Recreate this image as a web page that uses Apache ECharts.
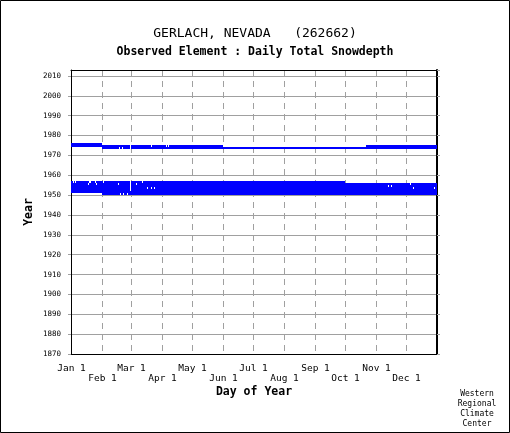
<!DOCTYPE html>
<html>
<head>
<meta charset="utf-8">
<title>GERLACH, NEVADA (262662)</title>
<script src="https://cdn.jsdelivr.net/npm/echarts@6/dist/echarts.min.js"></script>
<style>
html, body { margin: 0; padding: 0; background: #fff; }
#main { width: 510px; height: 433px; }
</style>
</head>
<body>
<div id="main"></div>
<script>
// day of year index on a 366 day calendar (0 = Jan 1, 59 = Feb 29, 365 = Dec 31)
var monthStart = [0, 31, 60, 91, 121, 152, 182, 213, 244, 274, 305, 335, 365];
var monthLabel = ['Jan 1', 'Feb 1', 'Mar 1', 'Apr 1', 'May 1', 'Jun 1',
	'Jul 1', 'Aug 1', 'Sep 1', 'Oct 1', 'Nov 1', 'Dec 1', 'Dec 31'];

// periods of record, one entry per run of observations
var periodYear  = [1950, 1951, 1952, 1953, 1954, 1955, 1956, 1973, 1974, 1974, 1975];
var periodStart = [31,   0,    0,    0,    0,    0,    0,    31,   0,    295,  0];
var periodEnd   = [365,  365,  365,  365,  365,  365,  273,  365,  151,  365,  30];

// days without an observation inside the periods
var missingYear = [1956, 1956, 1956, 1956, 1956, 1956, 1956, 1956,
	1955, 1955, 1955, 1955, 1955, 1955,
	1954, 1954, 1954,
	1953, 1953, 1953, 1953, 1953, 1953,
	1952,
	1950, 1950, 1950,
	1973, 1973, 1973,
	1974, 1974, 1974, 1974];
var missingDay = [2, 4, 18, 19, 24, 32, 59, 71,
	17, 25, 47, 59, 65, 339,
	59, 317, 320,
	59, 76, 80, 83, 342, 363,
	59,
	49, 52, 56,
	48, 51, 59,
	59, 80, 95, 97];

var days = [];
for (var d = 0; d <= 365; d++) {
	days.push(String(d));
}

function isMissing(year, day) {
	for (var i = 0; i < missingYear.length; i++) {
		if (missingYear[i] === year && missingDay[i] === day) return true;
	}
	return false;
}

// split the periods into runs of consecutive observed days
var runs = [];
for (var i = 0; i < periodYear.length; i++) {
	var y = periodYear[i], s = periodStart[i];
	for (var d = periodStart[i]; d <= periodEnd[i] + 1; d++) {
		if (d > periodEnd[i] || isMissing(y, d)) {
			if (d > s) runs.push([s, y, d - 1]);
			s = d + 1;
		}
	}
}

function renderRun(params, api) {
	var w = api.size([1, 0])[0];
	var a = api.coord([api.value(0), api.value(1) + 1]);
	var b = api.coord([api.value(2), api.value(1)]);
	// snap to whole pixels so neighbouring years join without seams
	var x0 = Math.round(a[0] - w / 2), x1 = Math.round(b[0] + w / 2);
	var y0 = Math.round(a[1]), y1 = Math.round(b[1]);
	return {
		type: 'rect',
		shape: { x: x0, y: y0, width: x1 - x0, height: y1 - y0 },
		style: { fill: '#0000ff' }
	};
}

var mono = 'DejaVu Sans Mono';
var myChart = echarts.init(document.getElementById('main'));
var option = {
	backgroundColor: '#fff',
	animation: false,
	title: [{
		text: 'GERLACH, NEVADA   (262662)',
		left: 'center',
		top: 27,
		padding: 0,
		textStyle: { fontFamily: mono, fontSize: 13, fontWeight: 'normal', color: '#000' }
	}, {
		text: 'Observed Element : Daily Total Snowdepth',
		left: 'center',
		top: 46,
		padding: 0,
		textStyle: { fontFamily: mono, fontSize: 11.5, fontWeight: 'bold', color: '#000' }
	}],
	grid: { left: 71, right: 73, top: 70, bottom: 79 },
	xAxis: [{
		type: 'category',
		data: days,
		position: 'bottom',
		boundaryGap: true,
		name: 'Day of Year',
		nameLocation: 'middle',
		nameGap: 32,
		nameMoveOverlap: false,
		nameTextStyle: { fontFamily: mono, fontSize: 11.5, fontWeight: 'bold', color: '#000' },
		axisLine: { lineStyle: { color: '#000', width: 1 } },
		axisTick: { show: false },
		axisLabel: {
			interval: function (index) { return monthStart.indexOf(index) >= 0; },
			formatter: function (value, index) {
				var k = monthStart.indexOf(index);
				return k % 2 === 1 ? '\n' + monthLabel[k] : monthLabel[k];
			},
			margin: 10,
			fontFamily: mono,
			fontSize: 9.5,
			lineHeight: 10,
			color: '#000'
		},
		splitLine: {
			show: true,
			interval: function (index) {
				return index > 0 && index < 365 && monthStart.indexOf(index) >= 0;
			},
			lineStyle: { color: '#a0a0a0', type: [6, 5], width: 1 }
		}
	}, {
		type: 'category',
		data: days,
		position: 'top',
		axisLine: { lineStyle: { color: '#000', width: 1 } },
		axisTick: { show: false },
		axisLabel: { show: false },
		splitLine: { show: false }
	}],
	yAxis: [{
		type: 'value',
		position: 'left',
		min: 1870,
		max: 2013,
		interval: 10,
		name: 'Year',
		nameLocation: 'middle',
		nameGap: 36,
		nameMoveOverlap: false,
		nameTextStyle: { fontFamily: mono, fontSize: 11.5, fontWeight: 'bold', color: '#000' },
		axisLine: { show: true, lineStyle: { color: '#000', width: 1 } },
		axisTick: { show: true, length: 3, lineStyle: { color: '#a0a0a0' } },
		axisLabel: {
			showMaxLabel: false,
			formatter: function (v) { return v % 10 === 0 ? String(v) : ''; },
			margin: 10,
			fontFamily: mono,
			fontSize: 7.5,
			color: '#000'
		},
		splitLine: {
			show: true,
			showMinLine: false,
			showMaxLine: false,
			lineStyle: { color: '#a0a0a0', width: 1 }
		}
	}, {
		type: 'value',
		position: 'right',
		min: 1870,
		max: 2013,
		interval: 10,
		axisLine: { show: true, lineStyle: { color: '#000', width: 2 } },
		axisTick: { show: true, length: 3, lineStyle: { color: '#a0a0a0' } },
		axisLabel: { show: false },
		splitLine: { show: false }
	}],
	series: [{
		type: 'custom',
		name: 'Daily Total Snowdepth',
		renderItem: renderRun,
		xAxisIndex: 0,
		yAxisIndex: 0,
		encode: { x: 0, y: 1 },
		data: runs
	}],
	graphic: [{
		type: 'rect',
		shape: { x: 0.5, y: 0.5, width: 509, height: 432 },
		style: { fill: 'none', stroke: '#000', lineWidth: 1 },
		silent: true
	}, {
		type: 'text',
		x: 477,
		y: 389,
		style: {
			text: 'Western\nRegional\nClimate\nCenter',
			fontFamily: mono,
			fontSize: 8,
			lineHeight: 10,
			textAlign: 'center',
			fill: '#000'
		},
		silent: true
	}]
};
myChart.setOption(option);
</script>
</body>
</html>
